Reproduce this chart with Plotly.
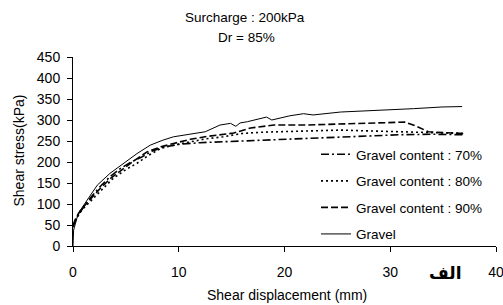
import plotly.graph_objects as go

# Data
x_g70 = [0, 0.3, 0.8, 1.5, 2.5, 3.5, 4.5, 5.5, 6.5, 7.5, 8.5, 10, 12, 14, 16, 18, 20.5, 23, 25.3, 28, 31, 34, 36.9]
y_g70 = [45, 65, 85, 110, 140, 165, 185, 200, 212, 226, 235, 242, 246, 248, 250, 253, 256, 258, 260, 263, 265, 266, 265]

x_g80 = [0, 0.3, 0.8, 1.6, 2.9, 3.8, 5, 6.05, 7.15, 8.3, 9.5, 11.1, 12.5, 14.2, 16, 18, 20.5, 23, 25.3, 28, 31, 34, 36.9]
y_g80 = [50, 65, 85, 105, 137, 161, 182, 197, 216, 232, 240, 248, 255, 260, 268, 271, 273, 274, 276, 274, 272, 270, 268]

x_g90 = [0, 0.3, 0.8, 1.5, 2.5, 3.5, 4.5, 5.5, 7.0, 8.3, 9.5, 11.1, 12.7, 15.2, 16.8, 19, 22, 25.3, 28, 31.4, 32.5, 33.6, 35, 36.9]
y_g90 = [50, 68, 88, 108, 135, 160, 180, 198, 224, 236, 244, 254, 261, 269, 281, 288, 288, 290, 292, 295, 285, 272, 270, 268]

x_gr = [0, 0.06, 0.5, 1.3, 2.3, 3.5, 4.8, 6.05, 7.3, 8.5, 9.5, 11.4, 12.5, 13.9, 14.9, 15.4, 15.8, 16.5, 18.3, 18.8, 20.5, 21.8, 22.7, 25.3, 27.5, 29.5, 32.2, 34.9, 36.8]
y_gr = [0, 38, 78, 109, 145, 173, 197, 220, 240, 252, 260, 268, 272, 288, 292, 285, 293, 296, 307, 300, 310, 315, 312, 319, 321, 323, 327, 331, 332]

names = ["Gravel content : 70%", "Gravel content : 80%", "Gravel content : 90%", "Gravel"]
x_ticks = [0, 10, 20, 30, 40]
y_ticks = [0, 50, 100, 150, 200, 250, 300, 350, 400, 450]

FONT = "Liberation Sans, Arial, sans-serif"
L, R, T, B = 73, 7, 57, 59
PW, PH = 503 - L - R, 305 - T - B


def px_to_paper(px, py):
    return (px - L) / PW, (305 - B - py) / PH


fig = go.Figure()
series = [
    (x_g70, y_g70, names[0], "8px,3px,2px,3px", 1.6),
    (x_g80, y_g80, names[1], "2px,3px", 1.6),
    (x_g90, y_g90, names[2], "7px,3px", 1.6),
    (x_gr, y_gr, names[3], "solid", 1.0),
]
for i, (xs, ys, nm, dash, w) in enumerate(series):
    fig.add_trace(go.Scatter(x=xs, y=ys, mode="lines", name=nm, legendgroup=f"g{i}",
                             line=dict(color="black", width=w, dash=dash), cliponaxis=False))

lx, ly = px_to_paper(316, 139)
fig.update_layout(
    width=503, height=305,
    margin=dict(l=L, r=R, t=T, b=B),
    paper_bgcolor="white", plot_bgcolor="white",
    font=dict(family=FONT, size=14, color="black"),
    showlegend=True,
    legend=dict(x=lx, y=ly, xanchor="left", yanchor="top",
                bgcolor="rgba(0,0,0,0)", borderwidth=0,
                traceorder="grouped", tracegroupgap=6,
                font=dict(family=FONT, size=13.5, color="black")),
    xaxis=dict(range=[0, 40], tickvals=x_ticks, showgrid=False, zeroline=False,
               showline=True, linecolor="black", linewidth=1, automargin=False,
               ticklabeloverflow="allow",
               ticks="outside", ticklen=5, tickcolor="black", ticklabelstandoff=8),
    yaxis=dict(range=[0, 450], tickvals=y_ticks, showgrid=False, zeroline=False,
               showline=True, linecolor="black", linewidth=1, automargin=False,
               ticklabeloverflow="allow",
               ticks="outside", ticklen=5, tickcolor="black", ticklabelstandoff=4),
)

ax, ay = px_to_paper(245, 17)
fig.add_annotation(text="Surcharge : 200kPa", xref="paper", yref="paper", x=ax, y=ay,
                   xanchor="center", yanchor="middle", showarrow=False,
                   font=dict(family=FONT, size=13.5))
ax, ay = px_to_paper(246, 37)
fig.add_annotation(text="Dr = 85%", xref="paper", yref="paper", x=ax, y=ay,
                   xanchor="center", yanchor="middle", showarrow=False,
                   font=dict(family=FONT, size=13.5))
ax, ay = px_to_paper(287, 295)
fig.add_annotation(text="Shear displacement (mm)", xref="paper", yref="paper", x=ax, y=ay,
                   xanchor="center", yanchor="middle", showarrow=False,
                   font=dict(family=FONT, size=14))
ax, ay = px_to_paper(18.5, 151)
fig.add_annotation(text="Shear stress(kPa)", xref="paper", yref="paper", x=ax, y=ay,
                   xanchor="center", yanchor="middle", showarrow=False, textangle=-90,
                   font=dict(family=FONT, size=14))
ax, ay = px_to_paper(445, 273)
fig.add_annotation(text="<b>الف</b>", xref="paper", yref="paper", x=ax, y=ay,
                   xanchor="center", yanchor="middle", showarrow=False,
                   font=dict(family="DejaVu Sans", size=17))

fig.write_html("out.html", config={"displayModeBar": False},
               post_script="document.body.style.margin='0';document.body.style.padding='0';")
